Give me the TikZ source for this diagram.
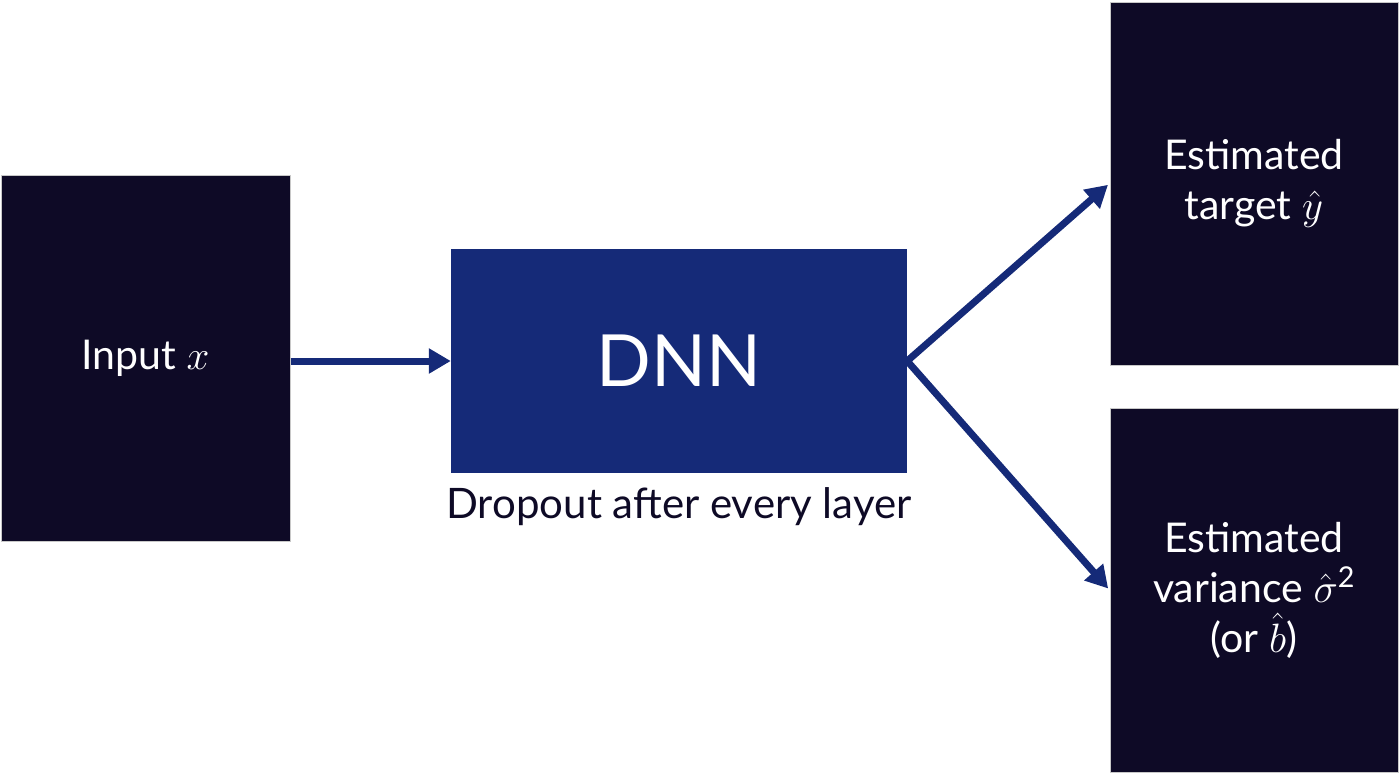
\RequirePackage{fix-cm}
\documentclass[tikz,border=0pt]{standalone}
\usepackage{fontspec}
\setmainfont{Lato}
\usetikzlibrary{arrows.meta}
\definecolor{boxdark}{HTML}{0E0A26}
\definecolor{dnnblue}{HTML}{152A78}
\definecolor{edgegray}{HTML}{C8C8C8}
\tikzset{
  darkbox/.style={rectangle, fill=boxdark, draw=edgegray, line width=1pt, inner sep=0pt,
    text=white, align=center, font=\fontsize{41}{50}\selectfont},
  dnnbox/.style={rectangle, fill=dnnblue, inner sep=0pt, text=white,
    font=\fontsize{72}{80}\selectfont},
  flow/.style={draw=dnnblue, line width=7pt, -{Triangle[length=22pt,width=24pt]}},
}
\begin{document}
\begin{tikzpicture}[x=1pt,y=-1pt]
\useasboundingbox (0,0) rectangle (1400,774);
\node[darkbox, minimum width=289pt, minimum height=366pt] (in) at (145.5,358) {Input $x$};
\node[dnnbox, minimum width=456pt, minimum height=224pt] (dnn) at (679,361) {DNN};
\node[darkbox, minimum width=288pt, minimum height=363pt] (tgt) at (1254,183.5) {Estimated\\target $\hat{y}$};
\node[darkbox, minimum width=288pt, minimum height=364pt] (var) at (1254,590) {Estimated\\variance $\hat{\sigma}^{\mathrm{2}}$\\(or $\hat{b}$)};
\node[text=boxdark, font=\fontsize{42}{48}\selectfont, anchor=base, inner sep=0pt] (drop) at ([yshift=-45pt]dnn.south) {Dropout after every layer};
\draw[flow] (in.east |- dnn.west) -- (dnn.west);
\draw[flow, shorten >=2pt] (dnn.east) -- (tgt.west);
\draw[flow, shorten >=2pt] (dnn.east) -- (var.west);
\end{tikzpicture}
\end{document}
